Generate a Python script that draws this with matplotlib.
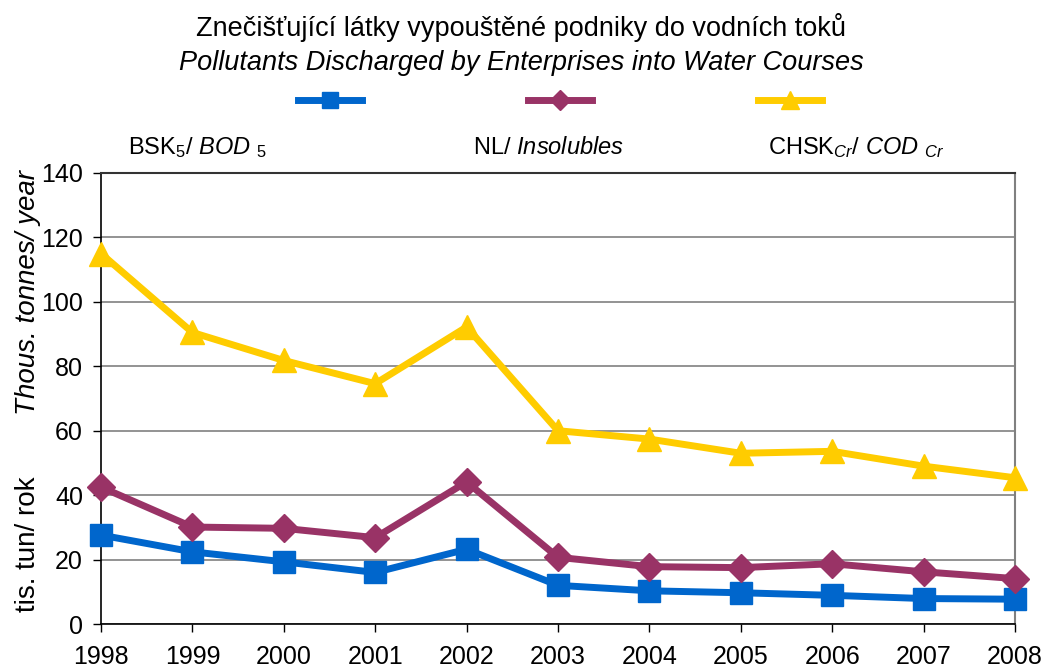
import matplotlib.pyplot as plt
from matplotlib.lines import Line2D

plt.rcParams['font.family'] = ['Liberation Sans', 'DejaVu Sans']
plt.rcParams['mathtext.fontset'] = 'custom'
plt.rcParams['mathtext.rm'] = 'Liberation Sans'
plt.rcParams['mathtext.it'] = 'Liberation Sans:italic'

years = [1998, 1999, 2000, 2001, 2002, 2003, 2004, 2005, 2006, 2007, 2008]
bod = [27.6, 22.4, 19.3, 16.0, 23.2, 12.0, 10.3, 9.7, 8.9, 7.9, 7.7]
insol = [42.5, 30.1, 29.7, 26.8, 44.1, 20.7, 17.8, 17.5, 18.7, 16.2, 14.1]
cod = [115.0, 90.5, 81.8, 74.6, 92.2, 60.0, 57.4, 53.0, 53.6, 49.0, 45.4]

c_blue = '#0066CC'
c_purple = '#993366'
c_yellow = '#FFCC00'

fig = plt.figure(figsize=(10.43, 6.69), dpi=100)
ax = fig.add_axes([101/1043, 45/669, 914/1043, 451/669])

ax.plot(years, bod, color=c_blue, lw=5, marker='s', ms=16, zorder=5, clip_on=False)
ax.plot(years, insol, color=c_purple, lw=5, marker='D', ms=14, zorder=5, clip_on=False)
ax.plot(years, cod, color=c_yellow, lw=5, marker='^', ms=17, zorder=5, clip_on=False)

ax.set_xlim(1998, 2008)
ax.set_ylim(0, 140)
ax.set_xticks(years)
ax.set_yticks(range(0, 141, 20))
ax.yaxis.grid(True, color='#808080', lw=1.2)
ax.set_axisbelow(True)
ax.tick_params(axis='both', labelsize=18, direction='out', length=6, width=1)
ax.tick_params(axis='x', pad=9)
ax.tick_params(axis='y', pad=7)
for s in ['left', 'bottom']:
    ax.spines[s].set_color('black')
    ax.spines[s].set_linewidth(1.2)
ax.spines['top'].set_color('#333333')
ax.spines['top'].set_linewidth(1.5)
ax.spines['right'].set_color('#808080')
ax.spines['right'].set_linewidth(1.5)
for sp in ax.spines.values():
    sp.set_zorder(4)

# title
fig.text(0.5, 1 - 28/669, 'Znečišťující látky vypouštěné podniky do vodních toků',
         ha='center', va='center', fontsize=19.5)
fig.text(0.5, 1 - 63/669, 'Pollutants Discharged by Enterprises into Water Courses',
         ha='center', va='center', fontsize=19.5, style='italic')

# legend markers
leg = [(298, 362, c_blue, 's', 12), (528, 592, c_purple, 'D', 10), (758, 822, c_yellow, '^', 13)]
for x0, x1, c, m, ms in leg:
    fig.add_artist(Line2D([x0/1043, x1/1043], [1 - 100/669]*2, color=c, lw=5))
    fig.add_artist(Line2D([(x0 + x1)/2/1043], [1 - 100/669], color=c, marker=m, ms=ms, lw=0))

ly = 1 - 148/669
fig.text(128/1043, ly, r'BSK$_{5}$/ $\mathit{BOD}\ _{\mathit{5}}$', ha='left', va='center', fontsize=17)
fig.text(473/1043, ly, r'NL/ $\mathit{Insolubles}$', ha='left', va='center', fontsize=17)
fig.text(768/1043, ly, r'CHSK$_{\mathit{Cr}}$/ $\mathit{COD}\ _{\mathit{Cr}}$', ha='left', va='center', fontsize=17)

# y label in two parts
fig.text(28/1043, 1 - 612/669, 'tis. tun/ rok', rotation=90, ha='center', va='bottom', fontsize=20)
fig.text(28/1043, 1 - 415/669, 'Thous. tonnes/ year', rotation=90, ha='center', va='bottom',
         fontsize=20, style='italic')

fig.savefig('out.png', dpi=100)
